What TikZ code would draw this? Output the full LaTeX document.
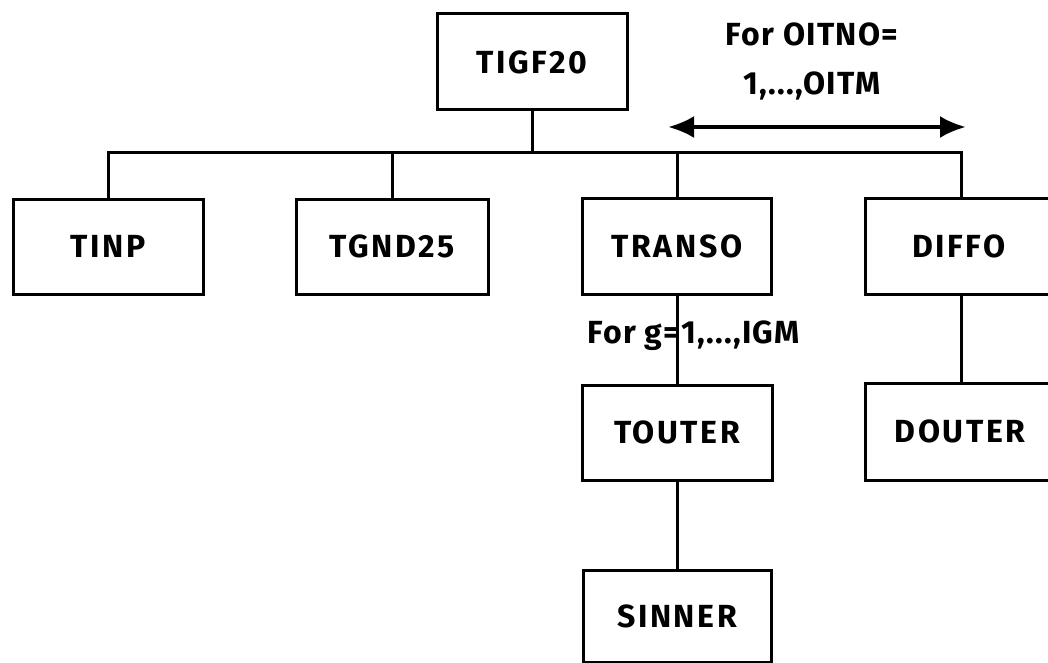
\documentclass[tikz,border=0pt]{standalone}
\usepackage{fontspec}
\setmainfont{Fira Sans}
\usetikzlibrary{arrows.meta}
\tikzset{
  box/.style={draw, line width=3pt, minimum width=190pt, minimum height=95pt, inner sep=0pt,
    font=\fontsize{32}{36}\selectfont\bfseries\addfontfeature{LetterSpace=8}},
  conn/.style={line width=3pt},
  lbl/.style={inner sep=0pt, font=\fontsize{32}{36}\selectfont\bfseries\addfontfeature{LetterSpace=4}},
  dbl/.style={line width=4pt, {Latex[length=26pt,width=22pt]}-{Latex[length=26pt,width=22pt]}}
}
\begin{document}
\begin{tikzpicture}[x=1pt,y=-1pt]
\useasboundingbox (0,0) rectangle (1048,663);
\clip (0,0) rectangle (1048,663);
\node[box, minimum height=96pt] (tigf) at (532,62) {TIGF20};
\node[box] (tinp) at (108,246.5) {TINP};
\node[box, minimum width=192pt] (tgnd) at (392,246.5) {TGND25};
\node[box, minimum width=189pt, minimum height=96pt] (transo) at (677,246) {TRANSO};
\node[box, minimum width=192pt, minimum height=96pt] (diffo) at (961,246) {\hspace*{-4pt}DIFFO};
\node[box] (touter) at (677,432.5) {TOUTER};
\node[box, minimum width=192pt, minimum height=97pt] (douter) at (961,431.5) {\hspace*{-2pt}DOUTER};
\node[box, minimum width=188pt, minimum height=92pt] (sinner) at (677,616) {SINNER};

\coordinate (bus) at (532,153);
\draw[conn] (tinp.north) |- (bus) -| (diffo.north);
\draw[conn] (tigf.south) -- (bus);
\draw[conn] (tgnd.north) -- (tgnd.north |- bus);
\draw[conn] (transo.north) -- (transo.north |- bus);

\node[lbl, anchor=east] (forg) at (800,336) {For g=1,...,IGM};
\draw[conn] (transo.south) -- (touter.north);
\draw[conn] (diffo.south) -- (douter.north);
\draw[conn] (touter.south) -- (sinner.north);

\node[lbl] (for1) at (812,34) {For OITNO=};
\node[lbl] (for2) at (812,86) {1,...,OITM};
\coordinate (arL) at (668,127);
\coordinate (arR) at (966,127);
\draw[dbl] (arL) -- (arR);
\end{tikzpicture}
\end{document}
